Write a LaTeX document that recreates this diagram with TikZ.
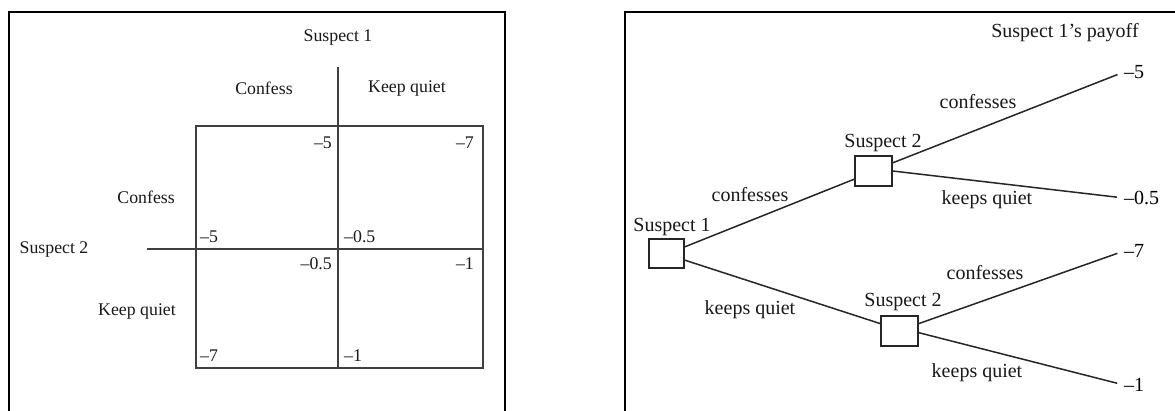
\documentclass[tikz,border=0pt]{standalone}
\usepackage{fontspec}
\setmainfont{Liberation Serif}
\begin{document}
\begin{tikzpicture}[x=1pt,y=-1pt,
  frame/.style={line width=2pt,black},
  gridline/.style={line width=1.6pt,black!75},
  lab/.style={inner sep=0pt,text=black!90,font=\fontsize{17.8}{20}\selectfont},
  tlab/.style={inner sep=0pt,text=black!90,font=\fontsize{20}{22}\selectfont},
  dec/.style={draw=black!85,line width=1.5pt,minimum width=35pt,minimum height=29pt,inner sep=0pt},
  branch/.style={line width=1.5pt,black!85,shorten >=7pt},
  pay/.style={anchor=west,inner sep=0pt,text=black,font=\fontsize{20}{22}\selectfont}]
\useasboundingbox (0,0) rectangle (1175,411);
\fill[white] (0,0) rectangle (1175,411);
% frames
\draw[frame] (9,411) -- (9,12) -- (505,12) -- (505,411);
\draw[frame] (625,411) -- (625,12) -- (1176,12);
% ---------------- left: payoff matrix ----------------
\draw[gridline] (196,126) rectangle (483,368);
\draw[gridline] (338,67) -- (338,369);
\draw[gridline] (147,249) -- (483,249);
\node[lab] (m1) at (338,38) {Suspect 1};
\node[lab] (c1) at (264,88) {Confess};
\node[lab] (k1) at (407,89) {Keep quiet};
\node[lab,anchor=east] (c2) at (175,197) {Confess};
\node[lab] (m2) at (54,250) {Suspect 2};
\node[lab,anchor=east] (k2) at (176,312) {Keep quiet};
\node[lab,anchor=east] (a1) at (332,143) {\textendash5};
\node[lab,anchor=east] (a2) at (474,143) {\textendash7};
\node[lab,anchor=west] (a3) at (200,237) {\textendash5};
\node[lab,anchor=west] (a4) at (344,237) {\textendash0.5};
\node[lab,anchor=east] (a5) at (332,264) {\textendash0.5};
\node[lab,anchor=east] (a6) at (474,264) {\textendash1};
\node[lab,anchor=west] (a7) at (200,356) {\textendash7};
\node[lab,anchor=west] (a8) at (344,356) {\textendash1};
% ---------------- right: game tree ----------------
\node[dec] (s1) at (666.5,253.5) {};
\node[dec,minimum width=37pt,minimum height=30pt] (s2a) at (873.5,171) {};
\node[dec,minimum width=37pt,minimum height=30pt] (s2b) at (899.5,331) {};
\node[pay] (p1) at (1124,72) {\textendash5};
\node[pay] (p2) at (1124,198) {\textendash0.5};
\node[pay] (p3) at (1124,251) {\textendash7};
\node[pay] (p4) at (1124,385) {\textendash1};
\draw[branch,shorten >=0pt] (s1.20) -- (s2a.203);
\draw[branch,shorten >=0pt] (s1.-20) -- (s2b.159);
\draw[branch] (s2a.23) -- (p1.west);
\draw[branch] (s2a.east) -- (p2.west);
\draw[branch] (s2b.21) -- (p3.west);
\draw[branch] (s2b.-5) -- (p4.west);
\node[tlab] (hd) at (1065,33) {Suspect 1’s payoff};
\node[tlab] (n1) at (672,227) {Suspect 1};
\node[tlab] (n2) at (883,143) {Suspect 2};
\node[tlab] (n3) at (903,302) {Suspect 2};
\node[tlab] (b1) at (750,195) {confesses};
\node[tlab] (b2) at (750,310) {keeps quiet};
\node[tlab] (b3) at (978,102) {confesses};
\node[tlab] (b4) at (987,200) {keeps quiet};
\node[tlab] (b5) at (985,273) {confesses};
\node[tlab] (b6) at (977,373) {keeps quiet};
\end{tikzpicture}
\end{document}
